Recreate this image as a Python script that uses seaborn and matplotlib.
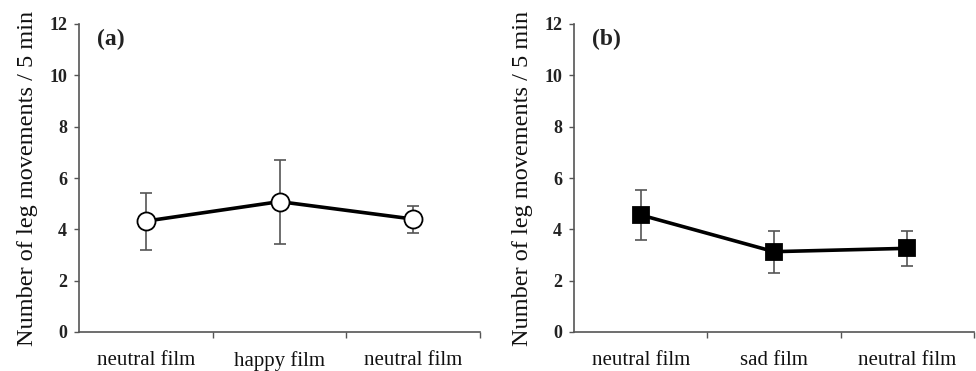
import matplotlib
matplotlib.use("Agg")
import matplotlib.pyplot as plt
import seaborn as sns
import pandas as pd
import numpy as np

cats_a = ["neutral film", "happy film", "neutral film "]
mean_a = [4.32, 5.08, 4.40]
lo_a = [3.19, 3.44, 3.87]
hi_a = [5.42, 6.71, 4.92]

cats_b = ["neutral film", "sad film", "neutral film "]
mean_b = [4.56, 3.13, 3.26]
lo_b = [3.58, 2.29, 2.58]
hi_b = [5.53, 3.95, 3.95]

yticks = [0, 2, 4, 6, 8, 10, 12]
ylabel = "Number of leg movements / 5 min"

sns.set_theme(style="white")
plt.rcParams['font.family'] = ['Liberation Serif', 'DejaVu Serif']

fig = plt.figure(figsize=(9.76, 3.71), dpi=100)
ax_a = fig.add_axes([79/976, 1 - 332/371, (480-79)/976, (332-24)/371])
ax_b = fig.add_axes([574/976, 1 - 332/371, (974-574)/976, (332-24)/371])

def panel(ax, cats, mean, lo, hi, marker, face, label):
    df = pd.DataFrame({"cond": cats, "val": mean})
    x = np.arange(len(cats))
    ax.errorbar(x, mean, yerr=[np.array(mean) - np.array(lo), np.array(hi) - np.array(mean)],
                fmt="none", ecolor="#555555", elinewidth=1.2, capsize=4, capthick=1.2, zorder=1)
    sns.lineplot(data=df, x=x, y="val", ax=ax, color="black", linewidth=2.6,
                 marker=marker, markersize=13 if marker == "o" else 12,
                 markerfacecolor=face, markeredgecolor="black", markeredgewidth=1.3,
                 zorder=3, sort=False)
    ax.set_xlim(-0.5, 2.5)
    ax.set_ylim(0, 12)
    ax.set_yticks(yticks)
    ax.set_yticklabels([str(t) for t in yticks], fontsize=13, fontweight="bold", color="#222222")
    ax.set_xticks([0.5, 1.5, 2.5])
    ax.set_xticklabels([])
    ax.set_xticks(x, minor=True)
    ax.set_xticklabels([c.strip() for c in cats], minor=True, fontsize=15, color="#111111")
    ax.tick_params(axis="x", which="minor", length=0, pad=14)
    ax.tick_params(axis="x", which="major", length=4, width=1, color="#555555", direction="out")
    ax.tick_params(axis="y", length=3.5, width=1, color="#555555", direction="out", pad=5)
    ax.tick_params(left=True, bottom=True)
    for s in ["top", "right"]:
        ax.spines[s].set_visible(False)
    for s in ["left", "bottom"]:
        ax.spines[s].set_color("#555555")
        ax.spines[s].set_linewidth(1.2)
    ax.set_xlabel("")
    ax.set_ylabel(ylabel, fontsize=17.5, labelpad=8, color="#111111")
    ax.text(0.045, 0.985, label, transform=ax.transAxes, fontsize=17, fontweight="bold",
            va="top", ha="left", color="#222222")

panel(ax_a, cats_a, mean_a, lo_a, hi_a, "o", "white", "(a)")
panel(ax_b, cats_b, mean_b, lo_b, hi_b, "s", "black", "(b)")

fig.savefig("out.png", dpi=100)
